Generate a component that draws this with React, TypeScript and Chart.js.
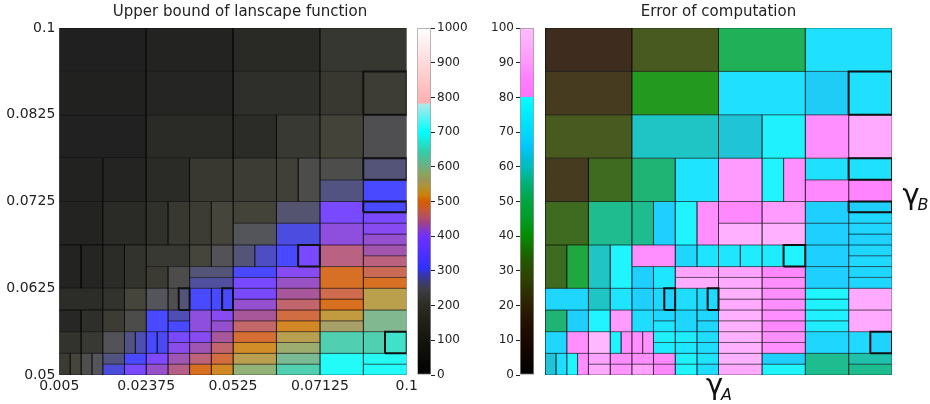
import React, { useEffect, useRef } from "react";
import { Chart, registerables } from "chart.js";

Chart.register(...registerables);

const FONT = '"DejaVu Sans", Verdana, sans-serif';

// Adaptive mesh, in grid-index units (8 x 8): [x0, x1, y0, y1]
const meshCells: [number, number, number, number][] = [
  [0, 2, 7, 8], [2, 4, 7, 8], [4, 6, 7, 8], [6, 8, 7, 8],
  [0, 2, 6, 7], [2, 4, 6, 7], [4, 6, 6, 7], [6, 7, 6, 7], [7, 8, 6, 7],
  [0, 2, 5, 6], [2, 4, 5, 6], [4, 5, 5, 6], [5, 6, 5, 6], [6, 7, 5, 6], [7, 8, 5, 6],
  [0, 1, 4, 5], [1, 2, 4, 5], [2, 3, 4, 5], [3, 4, 4, 5], [4, 5, 4, 5], [5, 5.5, 4, 5], [5.5, 6, 4, 5],
  [6, 7, 4.5, 5], [6, 7, 4, 4.5], [7, 8, 4.5, 5], [7, 8, 4, 4.5],
  [0, 1, 3, 4], [1, 2, 3, 4], [2, 2.5, 3, 4], [2.5, 3, 3, 4], [3, 3.5, 3, 4], [3.5, 4, 3, 4],
  [4, 5, 3.5, 4], [4, 5, 3, 3.5], [5, 6, 3.5, 4], [5, 6, 3, 3.5], [6, 7, 3.5, 4], [6, 7, 3, 3.5],
  [7, 8, 3.75, 4], [7, 8, 3.5, 3.75], [7, 8, 3.25, 3.5], [7, 8, 3, 3.25],
  [0, 0.5, 2, 3], [0.5, 1, 2, 3], [1, 1.5, 2, 3], [1.5, 2, 2, 3], [2, 3, 2.5, 3], [2, 2.5, 2, 2.5], [2.5, 3, 2, 2.5],
  [3, 3.5, 2.5, 3], [3.5, 4, 2.5, 3], [3, 4, 2.25, 2.5], [3, 4, 2, 2.25],
  [4, 4.5, 2.5, 3], [4.5, 5, 2.5, 3], [5, 5.5, 2.5, 3], [5.5, 6, 2.5, 3],
  [4, 5, 2.25, 2.5], [4, 5, 2, 2.25], [5, 6, 2.25, 2.5], [5, 6, 2, 2.25],
  [6, 7, 2.5, 3], [6, 7, 2, 2.5], [7, 8, 2.75, 3], [7, 8, 2.5, 2.75], [7, 8, 2.25, 2.5], [7, 8, 2, 2.25],
  [0, 1, 1.5, 2], [1, 1.5, 1.5, 2], [1.5, 2, 1.5, 2], [2, 2.5, 1.5, 2], [2.5, 2.75, 1.5, 2], [2.75, 3, 1.5, 2],
  [3, 3.5, 1.5, 2], [3.5, 3.75, 1.5, 2], [3.75, 4, 1.5, 2],
  [4, 5, 1.75, 2], [4, 5, 1.5, 1.75], [5, 6, 1.75, 2], [5, 6, 1.5, 1.75], [6, 7, 1.75, 2], [6, 7, 1.5, 1.75], [7, 8, 1.5, 2],
  [0, 0.5, 1, 1.5], [0.5, 1, 1, 1.5], [1, 1.5, 1, 1.5], [1.5, 2, 1, 1.5], [2, 2.5, 1, 1.5],
  [2.5, 3, 1.25, 1.5], [2.5, 3, 1, 1.25], [3, 3.5, 1, 1.5], [3.5, 4, 1.25, 1.5], [3.5, 4, 1, 1.25],
  [4, 5, 1.25, 1.5], [4, 5, 1, 1.25], [5, 6, 1.25, 1.5], [5, 6, 1, 1.25], [6, 7, 1.25, 1.5], [6, 7, 1, 1.25], [7, 8, 1, 1.5],
  [0, 0.5, 0.5, 1], [0.5, 1, 0.5, 1], [1, 1.5, 0.5, 1], [1.5, 1.75, 0.5, 1], [1.75, 2, 0.5, 1],
  [2, 2.25, 0.5, 1], [2.25, 2.5, 0.5, 1], [2.5, 3, 0.75, 1], [2.5, 3, 0.5, 0.75],
  [3, 3.5, 0.75, 1], [3, 3.5, 0.5, 0.75], [3.5, 4, 0.75, 1], [3.5, 4, 0.5, 0.75],
  [4, 5, 0.75, 1], [4, 5, 0.5, 0.75], [5, 6, 0.75, 1], [5, 6, 0.5, 0.75],
  [6, 7, 0.5, 1], [7, 7.5, 0.5, 1], [7.5, 8, 0.5, 1],
  [0, 0.25, 0, 0.5], [0.25, 0.5, 0, 0.5], [0.5, 0.75, 0, 0.5], [0.75, 1, 0, 0.5],
  [1, 1.5, 0.25, 0.5], [1, 1.5, 0, 0.25], [1.5, 2, 0.25, 0.5], [1.5, 2, 0, 0.25],
  [2, 2.5, 0.25, 0.5], [2, 2.5, 0, 0.25], [2.5, 3, 0.25, 0.5], [2.5, 3, 0, 0.25],
  [3, 3.5, 0.25, 0.5], [3, 3.5, 0, 0.25], [3.5, 4, 0.25, 0.5], [3.5, 4, 0, 0.25],
  [4, 5, 0.25, 0.5], [4, 5, 0, 0.25], [5, 6, 0.25, 0.5], [5, 6, 0, 0.25],
  [6, 7, 0, 0.5], [7, 8, 0.25, 0.5], [7, 8, 0, 0.25],
];

// Upper bound of landscape function, per mesh cell
const boundValues: number[] = [
  5, 20, 50, 125,
  8, 32, 80, 130, 155,
  10, 55, 65, 140, 185, 230,
  12, 28, 60, 130, 150, 175, 220,
  222, 265, 262, 310,
  18, 55, 100, 130, 150, 195,
  185, 245, 258, 300, 388, 412,
  310, 388, 405, 418,
  18, 32, 65, 110, 140, 148, 220,
  195, 240, 262, 278,
  262, 290, 310, 388,
  312, 388, 405, 422,
  450, 497, 430, 452, 472, 498,
  70, 110, 195, 245, 230, 262,
  310, 310, 312,
  388, 418, 437, 460, 477, 500, 543,
  45, 80, 152, 220, 310,
  285, 310, 412, 405, 418,
  437, 462, 482, 515, 535, 560, 600,
  110, 140, 240, 265, 285,
  310, 305, 388, 408,
  405, 428, 437, 460,
  490, 518, 545, 575,
  640, 640, 660,
  148, 195, 225, 245,
  265, 298, 310, 388,
  395, 420, 428, 447,
  455, 500, 485, 515,
  545, 585, 605, 640,
  695, 692, 697,
];

// Error of computation, per mesh cell
const errorValues: number[] = [
  15, 28, 50, 71,
  20, 40, 71, 65, 71,
  28, 60, 62, 76, 85, 92,
  20, 33, 53, 72, 88, 77, 85,
  71, 83, 71, 81,
  33, 56, 56, 66, 77, 85,
  83, 94, 88, 94, 66, 66,
  66, 68, 68, 67,
  33, 45, 60, 77, 85, 66, 73,
  68, 72, 90, 93,
  73, 75, 75, 77,
  90, 92, 83, 85,
  66, 66, 68, 69, 68, 68,
  68, 60, 72, 66, 68, 67,
  70, 69, 69,
  94, 92, 85, 85, 77, 76, 92,
  53, 66, 77, 88, 70,
  68, 72, 68, 68, 68,
  94, 94, 85, 83, 76, 75, 92,
  68, 85, 96, 77, 85,
  85, 86, 76, 75,
  75, 73, 70, 70,
  94, 94, 85, 85,
  68, 69, 67,
  62, 70, 77, 85,
  90, 92, 85, 87,
  85, 90, 83, 83,
  76, 77, 72, 70,
  94, 92, 66, 77,
  56, 58, 56,
];

// Cells outlined in bold
const markedCells: number[] = [8, 24, 38, 56, 72, 75, 119];

const gammaATickLabels = ["0.005", "0.02375", "0.0525", "0.07125", "0.1"];
const gammaBTickLabels = ["0.05", "0.0625", "0.0725", "0.0825", "0.1"];
const gridSize = 8;

const boundRange: [number, number] = [0, 1000];
const boundStep = 100;
const errorRange: [number, number] = [0, 100];
const errorStep = 10;

const boundColormap: [number, string][] = [
  [0, "#000000"], [100, "#15150f"], [200, "#2c2c22"], [250, "#3e3e48"], [280, "#383896"],
  [310, "#3030ff"], [400, "#7030ff"], [437, "#9c418c"], [450, "#b04c70"], [475, "#c65838"],
  [500, "#d45c00"], [520, "#ca810b"], [545, "#af9338"], [560, "#9c9354"], [580, "#8aa55d"],
  [600, "#6fae81"], [640, "#38caa5"], [660, "#26dcc1"], [700, "#00ffff"], [780, "#b0e8e8"],
  [785, "#ffb0b0"], [1000, "#ffffff"],
];

const errorColormap: [number, string][] = [
  [0, "#000000"], [10, "#1a0800"], [15, "#231000"], [20, "#2c2000"], [28, "#2f4300"],
  [33, "#235700"], [40, "#048c00"], [45, "#009c26"], [50, "#00a541"], [53, "#00aa61"],
  [56, "#00b381"], [60, "#00bdbd"], [62, "#00bdd2"], [66, "#00c8ff"], [70, "#00d8ff"],
  [75, "#00ebff"], [79.99, "#00ffff"], [80, "#ff70ff"], [85, "#ff7eff"], [90, "#ff96ff"],
  [95, "#ffaaff"], [100, "#ffbeff"],
];

// ---- layout (pixels) ----
const W = 930;
const H = 404;
const AREA_TOP = 28;
const AREA_BOTTOM = 375;
const LEFT_PLOT = [59.3, 406.7];
const RIGHT_PLOT = [545, 892];
const LEFT_BAR = [417.3, 431];
const RIGHT_BAR = [520, 534];
const CELL_ALPHA = 0.88;

function hexRgb(h: string): [number, number, number] {
  const n = parseInt(h.slice(1), 16);
  return [(n >> 16) & 255, (n >> 8) & 255, n & 255];
}

function sampleMap(map: [number, string][], v: number): [number, number, number] {
  if (v <= map[0][0]) return hexRgb(map[0][1]);
  for (let i = 0; i < map.length - 1; i++) {
    const [v0, c0] = map[i];
    const [v1, c1] = map[i + 1];
    if (v >= v0 && v <= v1) {
      const t = v1 === v0 ? 1 : (v - v0) / (v1 - v0);
      const a = hexRgb(c0);
      const b = hexRgb(c1);
      return [0, 1, 2].map((k) => Math.round(a[k] + (b[k] - a[k]) * t)) as [number, number, number];
    }
  }
  return hexRgb(map[map.length - 1][1]);
}

function makeHeatmap(
  canvas: HTMLCanvasElement,
  values: number[],
  cmap: [number, string][],
  title: string,
  area: number[],
  showAxes: boolean,
  titleShift: number
) {
  const datasets = meshCells.map((c, i) => {
    const [x0, x1, y0, y1] = c;
    const marked = markedCells.includes(i);
    const [r, g, b] = sampleMap(cmap, values[i]);
    return {
      type: "line" as const,
      data: [
        { x: x0, y: y0 },
        { x: x1, y: y0 },
        { x: x1, y: y1 },
        { x: x0, y: y1 },
        { x: x0, y: y0 },
      ],
      fill: "shape" as const,
      backgroundColor: `rgba(${r},${g},${b},${CELL_ALPHA})`,
      borderColor: marked ? "#111111" : "rgba(0,0,0,0.45)",
      borderWidth: marked ? 2 : 1,
      pointRadius: 0,
      pointHoverRadius: 0,
      tension: 0,
      order: marked ? 0 : 1,
    };
  });
  const tickPos = (labels: string[]) => labels.map((_, i) => (i * gridSize) / (labels.length - 1));
  const axis = (labels: string[], isX: boolean) => ({
    type: "linear" as const,
    display: showAxes,
    min: 0,
    max: gridSize,
    position: isX ? ("bottom" as const) : ("left" as const),
    grid: { display: false, drawTicks: false, tickLength: 0 },
    border: { display: false },
    afterBuildTicks: (s: any) => {
      s.ticks = tickPos(labels).map((v) => ({ value: v }));
    },
    afterFit: (s: any) => {
      if (!showAxes) return;
      if (isX) s.height = H - AREA_BOTTOM;
      else s.width = area[0];
    },
    ticks: {
      autoSkip: false,
      maxRotation: 0,
      padding: isX ? 3 : 4,
      color: "#222",
      font: { family: FONT, size: 14 },
      callback: (_v: any, idx: number) => labels[idx],
    },
  });
  const shiftTitle = {
    id: "shiftTitle",
    afterLayout(chart: any) {
      const t = chart.titleBlock;
      if (t) {
        t.left += titleShift;
        t.right += titleShift;
      }
    },
  };
  return new Chart(canvas, {
    type: "line",
    data: { datasets: datasets as any },
    plugins: [shiftTitle],
    options: {
      animation: false,
      responsive: false,
      devicePixelRatio: 1,
      events: [],
      layout: {
        padding: {
          left: showAxes ? 0 : area[0],
          right: W - area[1],
          top: 0,
          bottom: showAxes ? 0 : H - AREA_BOTTOM,
        },
      },
      plugins: {
        legend: { display: false },
        tooltip: { enabled: false },
        title: {
          display: true,
          text: title,
          fullSize: false,
          color: "#222",
          font: { family: FONT, size: 15, weight: "normal" },
          padding: { top: 3, bottom: 7 },
        },
      },
      scales: {
        x: axis(gammaATickLabels, true),
        y: axis(gammaBTickLabels, false),
      } as any,
    },
  });
}

function makeColorbar(
  canvas: HTMLCanvasElement,
  cmap: [number, string][],
  range: [number, number],
  step: number,
  side: "left" | "right",
  bar: number[]
) {
  const axisW = side === "right" ? 50 : 40;
  const [min, max] = range;
  return new Chart(canvas, {
    type: "bar",
    data: {
      labels: [""],
      datasets: [
        {
          data: [[min, max]] as any,
          backgroundColor: (ctx: any) => {
            const chart = ctx.chart;
            const a = chart.chartArea;
            if (!a) return "#888";
            const g = chart.ctx.createLinearGradient(0, a.bottom, 0, a.top);
            cmap.forEach(([v, c]) => g.addColorStop((v - min) / (max - min), c));
            return g;
          },
          borderColor: "#9a9a9a",
          borderWidth: 1,
          borderSkipped: false,
          barPercentage: 1,
          categoryPercentage: 1,
        },
      ],
    },
    options: {
      animation: false,
      responsive: false,
      devicePixelRatio: 1,
      events: [],
      layout: {
        padding: {
          left: side === "left" ? bar[0] - axisW : bar[0],
          right: side === "right" ? W - bar[1] - axisW : W - bar[1],
          top: AREA_TOP,
          bottom: H - AREA_BOTTOM,
        },
      },
      plugins: { legend: { display: false }, tooltip: { enabled: false }, title: { display: false } },
      scales: {
        x: { display: false },
        y: {
          position: side,
          min,
          max,
          afterFit: (s: any) => {
            s.width = axisW;
          },
          grid: { display: true, drawOnChartArea: false, drawTicks: true, tickLength: 4, color: "#222" },
          border: { display: false },
          ticks: {
            stepSize: step,
            padding: 2,
            color: "#222",
            font: { family: FONT, size: 12 },
            callback: (v: any) => String(v),
          },
        },
      },
    },
  });
}

const layer: React.CSSProperties = { position: "absolute", left: 0, top: 0 };

export default function App() {
  const leftRef = useRef<HTMLCanvasElement>(null);
  const leftBarRef = useRef<HTMLCanvasElement>(null);
  const rightRef = useRef<HTMLCanvasElement>(null);
  const rightBarRef = useRef<HTMLCanvasElement>(null);

  useEffect(() => {
    const charts = [
      makeHeatmap(leftRef.current!, boundValues, boundColormap, "Upper bound of lanscape function", LEFT_PLOT, true, 7),
      makeColorbar(leftBarRef.current!, boundColormap, boundRange, boundStep, "right", LEFT_BAR),
      makeHeatmap(rightRef.current!, errorValues, errorColormap, "Error of computation", RIGHT_PLOT, false, 0),
      makeColorbar(rightBarRef.current!, errorColormap, errorRange, errorStep, "left", RIGHT_BAR),
    ];
    return () => charts.forEach((c) => c.destroy());
  }, []);

  const gammaStyle: React.CSSProperties = {
    position: "absolute",
    fontFamily: FONT,
    fontSize: 29,
    lineHeight: "29px",
    color: "#111",
    whiteSpace: "nowrap",
  };
  const subStyle: React.CSSProperties = {
    position: "absolute",
    fontFamily: FONT,
    fontSize: 16,
    lineHeight: "16px",
    fontStyle: "italic",
    color: "#111",
    whiteSpace: "nowrap",
  };

  return (
    <div style={{ position: "absolute", left: 0, top: 0, width: W, height: H, background: "#fff", overflow: "hidden" }}>
      <canvas ref={leftRef} width={W} height={H} style={layer} />
      <canvas ref={leftBarRef} width={W} height={H} style={layer} />
      <canvas ref={rightRef} width={W} height={H} style={layer} />
      <canvas ref={rightBarRef} width={W} height={H} style={layer} />
      <div style={{ ...gammaStyle, left: 706, top: 370 }}>γ</div>
      <div style={{ ...subStyle, left: 721, top: 386.5 }}>A</div>
      <div style={{ ...gammaStyle, left: 902.5, top: 180 }}>γ</div>
      <div style={{ ...subStyle, left: 917.5, top: 196.5 }}>B</div>
    </div>
  );
}
